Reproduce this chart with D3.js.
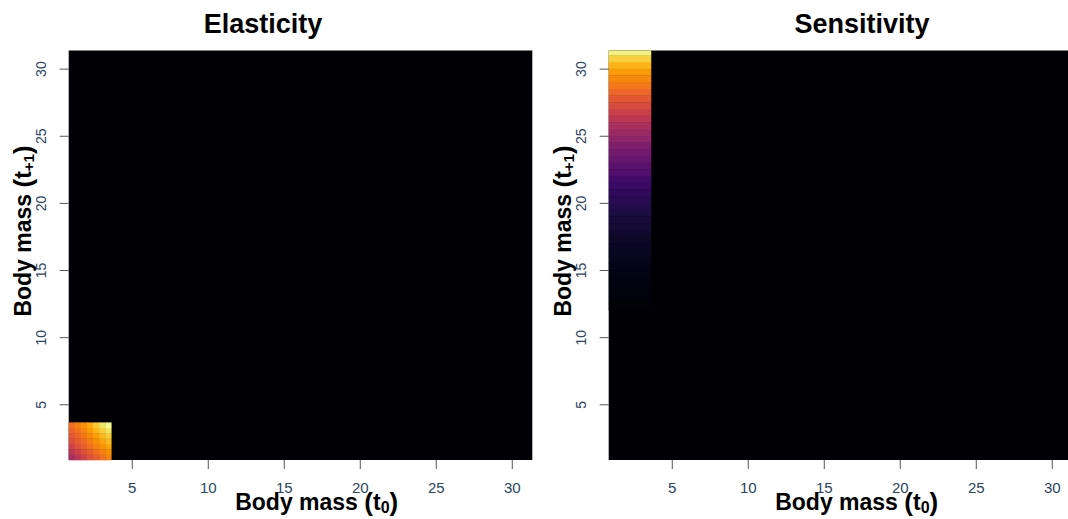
<!DOCTYPE html>
<html>
<head>
<meta charset="utf-8">
<script src="https://cdn.jsdelivr.net/npm/d3@7"></script>
<style>
  body { margin: 0; background: #fff; }
  text { font-family: "Liberation Sans", Arial, sans-serif; }
</style>
</head>
<body>
<svg width="1068" height="519"></svg>
<script>
// body mass axis ticks
var ticks = [5, 10, 15, 20, 25, 30];
var massDomain = [0.85, 31.35];

// elasticity: small corner block, cell edges (same on both axes)
var elasEdges = [0.85, 1.25, 1.65, 2.05, 2.45, 2.85, 3.25, 3.65];
// rows from bottom (small t+1) to top, columns left to right (scaled 0-1)
var elasRows = [
  [0.45, 0.50, 0.55, 0.60, 0.64, 0.68, 0.72],
  [0.50, 0.55, 0.60, 0.64, 0.68, 0.72, 0.76],
  [0.55, 0.60, 0.64, 0.68, 0.72, 0.76, 0.80],
  [0.59, 0.63, 0.67, 0.71, 0.75, 0.80, 0.84],
  [0.62, 0.66, 0.70, 0.74, 0.79, 0.84, 0.88],
  [0.65, 0.69, 0.73, 0.78, 0.83, 0.88, 0.93],
  [0.68, 0.72, 0.76, 0.81, 0.87, 0.93, 0.98]
];

// sensitivity: one column (t0 small), values along t+1
var sensX = [0.85, 3.65];
var sensMass = [12, 12.5, 13, 13.5, 14, 14.5, 15, 15.5, 16, 16.5, 17, 17.5, 18, 18.5,
  19, 19.5, 20, 20.5, 21, 21.5, 22, 22.5, 23, 23.5, 24, 24.5, 25, 25.5, 26, 26.5,
  27, 27.5, 28, 28.5, 29, 29.5, 30, 30.5, 31];
var sensVal = [0.01, 0.015, 0.02, 0.025, 0.03, 0.035, 0.04, 0.05, 0.055, 0.06, 0.07, 0.08,
  0.09, 0.10, 0.11, 0.13, 0.145, 0.16, 0.18, 0.20, 0.235, 0.26, 0.29, 0.32, 0.35, 0.39,
  0.42, 0.46, 0.50, 0.54, 0.58, 0.62, 0.66, 0.70, 0.74, 0.78, 0.83, 0.89, 0.96];
var sensStep = 0.5;

var svg = d3.select("svg");
var color = d3.scaleSequential(d3.interpolateInferno).domain([0, 1]);

function panel(left, title, titleX) {
  var x = d3.scaleLinear().domain(massDomain).range([left, left + 463.6]);
  var y = d3.scaleLinear().domain(massDomain).range([460, 50.5]);

  var g = svg.append("g");
  g.append("rect")
    .attr("x", x(massDomain[0])).attr("y", y(massDomain[1]))
    .attr("width", x(massDomain[1]) - x(massDomain[0]))
    .attr("height", y(massDomain[0]) - y(massDomain[1]))
    .attr("fill", color(0));

  var cells = g.append("g").attr("class", "cells");

  // axes
  svg.append("g")
    .attr("transform", "translate(0,460)")
    .call(d3.axisBottom(x).tickValues(ticks).tickSize(9).tickPadding(13))
    .call(function(a) {
      a.select(".domain").remove();
      a.selectAll("line").attr("stroke", "#555");
      a.selectAll("text").attr("font-size", 15).attr("fill", "#2b4461");
    });

  svg.append("g")
    .attr("transform", "translate(" + x(massDomain[0]) + ",0)")
    .call(d3.axisLeft(y).tickValues(ticks).tickSize(9).tickPadding(0))
    .call(function(a) {
      a.select(".domain").remove();
      a.selectAll("line").attr("stroke", "#555");
      a.selectAll("text")
        .attr("font-size", 14).attr("fill", "#2b4461")
        .attr("x", null).attr("dy", null)
        .attr("text-anchor", "middle")
        .attr("transform", "translate(-23,0) rotate(-90)");
    });

  svg.append("text")
    .attr("x", titleX).attr("y", 33)
    .attr("text-anchor", "middle")
    .attr("font-size", 27).attr("font-weight", "bold")
    .text(title);

  // x label
  var xl = svg.append("text")
    .attr("x", left + 248).attr("y", 510)
    .attr("text-anchor", "middle")
    .attr("font-size", 23).attr("font-weight", "bold");
  xl.append("tspan").text("Body mass ");
  xl.append("tspan").attr("font-size", 26).attr("dy", 1).text("(");
  xl.append("tspan").attr("dy", -1).text("t");
  xl.append("tspan").attr("font-size", 16).attr("dy", 3).text("0");
  xl.append("tspan").attr("font-size", 26).attr("dy", -2).text(")");

  // y label
  var yl = svg.append("text")
    .attr("transform", "translate(" + (left - 38) + ",231) rotate(-90)")
    .attr("text-anchor", "middle")
    .attr("font-size", 23).attr("font-weight", "bold");
  yl.append("tspan").text("Body mass ");
  yl.append("tspan").attr("font-size", 26).attr("dy", 1).text("(");
  yl.append("tspan").attr("dy", -1).text("t");
  yl.append("tspan").attr("font-size", 15).attr("dy", 3).text("+1");
  yl.append("tspan").attr("font-size", 26).attr("dy", -2).text(")");

  return {x: x, y: y, cells: cells};
}

// Elasticity
var p1 = panel(68.7, "Elasticity", 263);
var elasCells = [];
elasRows.forEach(function(row, j) {
  row.forEach(function(v, i) {
    elasCells.push({x0: elasEdges[i], x1: elasEdges[i + 1], y0: elasEdges[j], y1: elasEdges[j + 1], v: v});
  });
});
p1.cells.selectAll("rect")
  .data(elasCells)
  .enter().append("rect")
    .attr("x", function(d) { return p1.x(d.x0); })
    .attr("y", function(d) { return p1.y(d.y1); })
    .attr("width", function(d) { return p1.x(d.x1) - p1.x(d.x0) + 0.3; })
    .attr("height", function(d) { return p1.y(d.y0) - p1.y(d.y1) + 0.3; })
    .attr("fill", function(d) { return color(d.v); });

// Sensitivity
var p2 = panel(608.7, "Sensitivity", 862);
p2.cells.selectAll("rect")
  .data(sensMass.map(function(m, i) { return {m: m, v: sensVal[i]}; }))
  .enter().append("rect")
    .attr("x", p2.x(sensX[0]))
    .attr("width", p2.x(sensX[1]) - p2.x(sensX[0]))
    .attr("y", function(d) { return p2.y(Math.min(d.m + sensStep, massDomain[1])); })
    .attr("height", function(d) { return p2.y(d.m) - p2.y(Math.min(d.m + sensStep, massDomain[1])) + 0.3; })
    .attr("fill", function(d) { return color(d.v); });
</script>
</body>
</html>
